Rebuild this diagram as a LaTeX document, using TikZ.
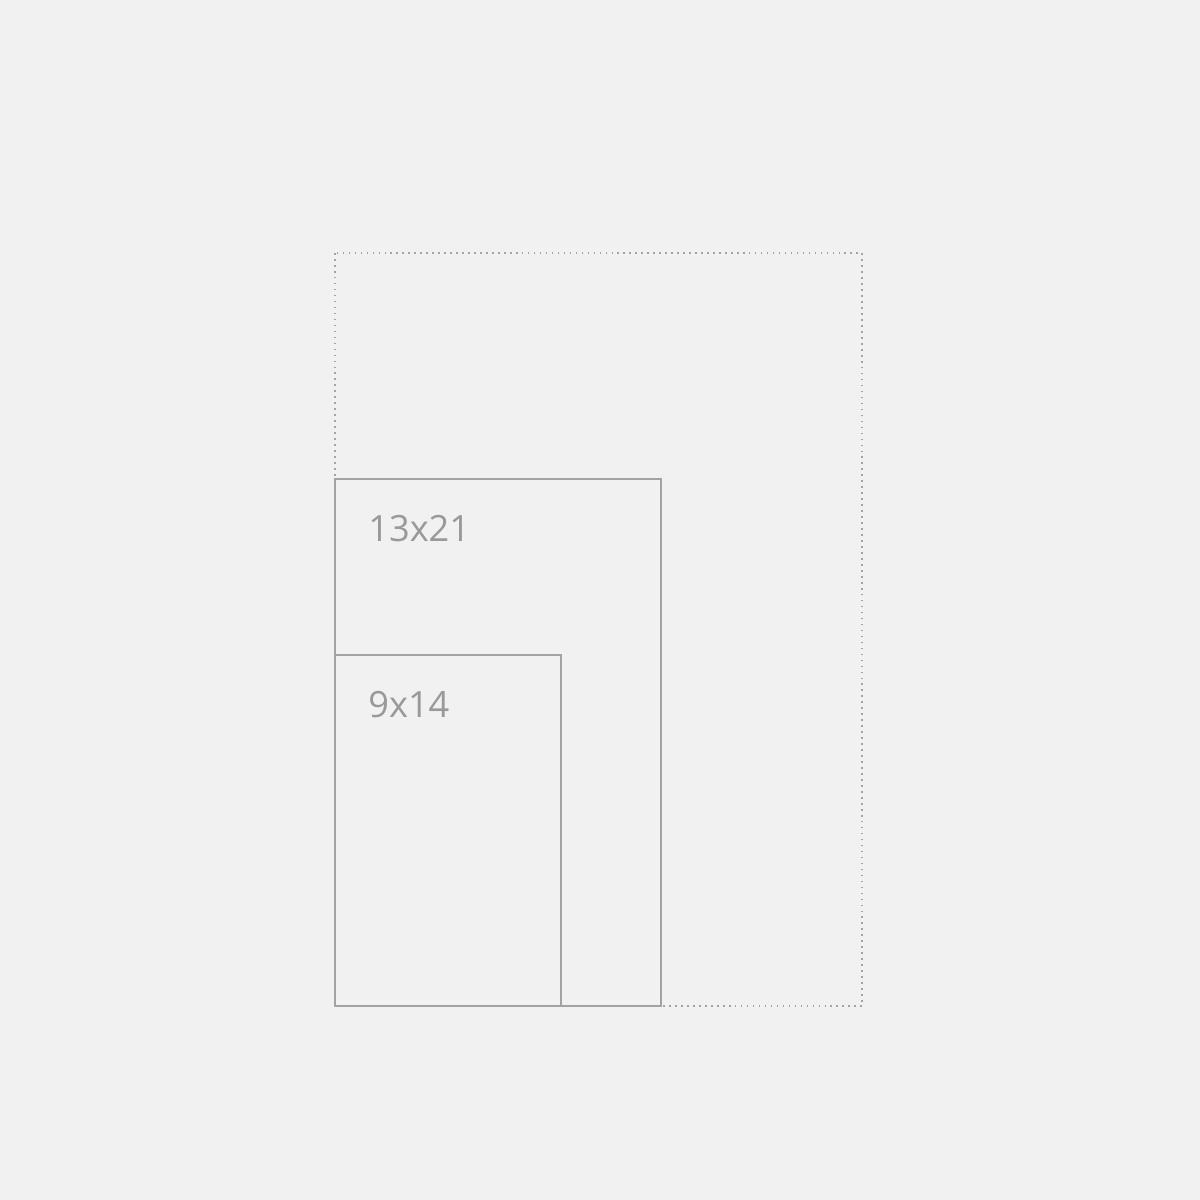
\documentclass[tikz,border=0pt]{standalone}
\usepackage{fontspec}
\setmainfont{Open Sans}
\usetikzlibrary{positioning}
\definecolor{paper}{HTML}{F1F1F1}
\definecolor{edge}{HTML}{A3A3A3}
\definecolor{ink}{HTML}{999999}
\tikzstyle{frame}=[draw=edge,line width=1.3pt,inner sep=0pt,outer sep=0pt]
\tikzstyle{size}=[text=ink,font=\fontsize{20.6}{25}\selectfont,inner sep=0pt,anchor=base west]
\begin{document}
\begin{tikzpicture}[x=0.02cm,y=-0.02cm]
\fill[paper] (0,0) rectangle (1200,1200);
\useasboundingbox (0,0) rectangle (1200,1200);
\draw[draw=edge,line width=0.9pt,dash pattern=on 0.9pt off 2.5pt] (335,253) rectangle (862,1006);
\draw[frame] (335,479) rectangle (661,1006);
\draw[frame] (335,655) rectangle (561,1006);
\node [size] (large) at (368,541) {13x21};
\node [size] (small) at (368,717) {9x14};
\end{tikzpicture}
\end{document}
